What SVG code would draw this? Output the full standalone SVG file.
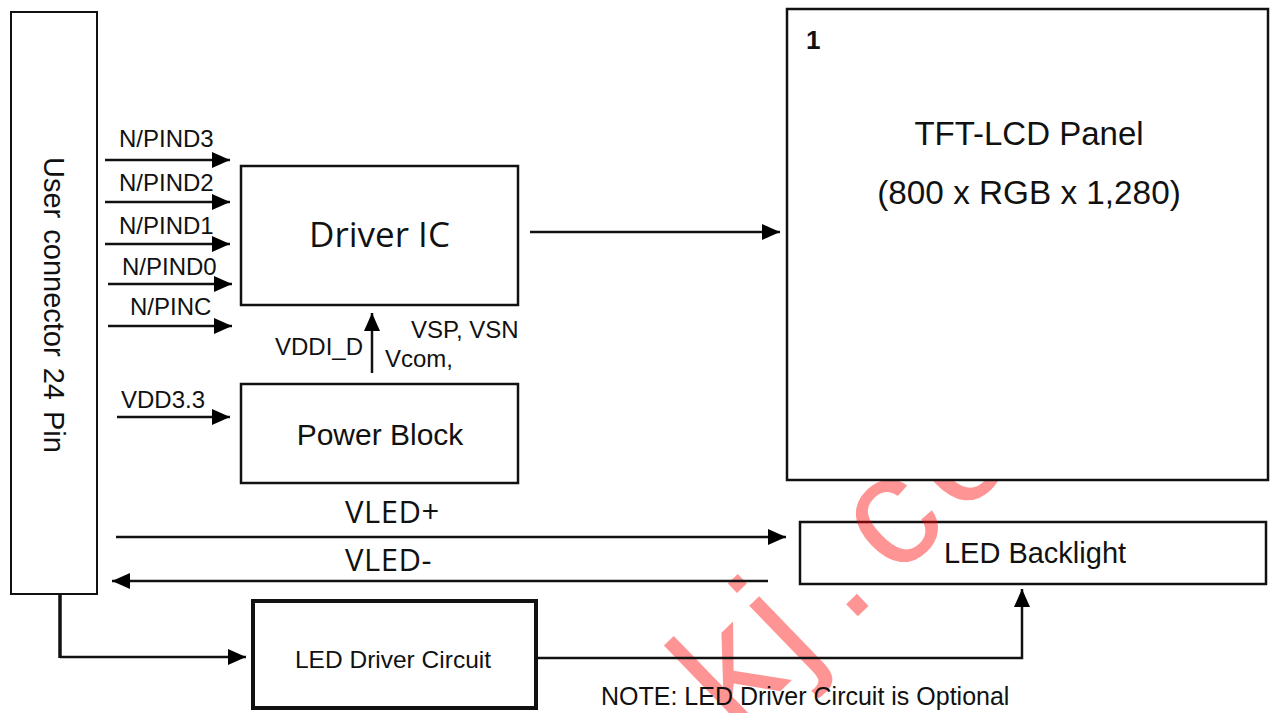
<svg xmlns="http://www.w3.org/2000/svg" width="1270" height="713" viewBox="0 0 1270 713">
<defs>
<marker id="ah" markerUnits="userSpaceOnUse" markerWidth="18" markerHeight="16" refX="18" refY="8" orient="auto">
<path d="M0,0 L18,8 L0,16 z" fill="#000"/>
</marker>
<style>
.box{fill:#fff;stroke:#111;stroke-width:2.5}
.thick{stroke-width:4}
.ln{fill:none;stroke:#111;stroke-width:2.5}
.arr{marker-end:url(#ah)}
.a{font-family:"Liberation Sans",Arial,sans-serif;fill:#111}
.o{font-family:"Open Sans","Noto Sans",sans-serif;fill:#111}
.sig{font-size:24px}
.mid{text-anchor:middle}
.wm{font-family:"Liberation Sans",Arial,sans-serif;font-size:157px;fill:#ff0000;fill-opacity:0.42}
</style>
</defs>
<rect width="1270" height="713" fill="#fff"/>

<g id="user-connector">
<rect class="box" x="11" y="12" width="86" height="582" style="stroke-width:2"/>
<text class="a" font-size="29" word-spacing="3" transform="translate(44,157) rotate(90)">User connector 24 Pin</text>
</g>

<g id="driver-ic">
<rect class="box" x="241" y="166" width="277" height="139"/>
<text class="o mid" x="379.5" y="247" font-size="35">Driver IC</text>
</g>

<g id="power-block">
<rect class="box" x="241" y="384" width="277" height="99"/>
<text class="a mid" x="380" y="445" font-size="30">Power Block</text>
</g>

<g id="led-backlight">
<rect class="box" x="800" y="522" width="466" height="62"/>
<text class="a mid" x="1035" y="563" font-size="29">LED Backlight</text>
</g>

<g id="led-driver-circuit">
<rect class="box thick" x="253" y="601" width="283" height="107"/>
<text class="a mid" x="393" y="668" font-size="24.5">LED Driver Circuit</text>
</g>

<g id="watermark">
<text class="wm" transform="translate(862.5,611.7) rotate(-44)" x="-177 -88 -21 46 135" y="0">kj.cc</text>
</g>

<g id="tft-lcd-panel">
<rect class="box" x="787" y="9" width="481" height="471"/>
<text class="a" x="806" y="49" font-size="26" font-weight="bold">1</text>
<text class="a mid" x="1029" y="145" font-size="33">TFT-LCD Panel</text>
<text class="a mid" x="1029" y="204" font-size="33.3">(800 x RGB x 1,280)</text>
</g>

<g id="connectors">
<line class="ln arr" x1="105" y1="160" x2="230" y2="160"/>
<line class="ln arr" x1="105" y1="202" x2="230" y2="202"/>
<line class="ln arr" x1="105" y1="244" x2="230" y2="244"/>
<line class="ln arr" x1="108" y1="284" x2="232" y2="284"/>
<line class="ln arr" x1="108" y1="326" x2="232" y2="326"/>
<line class="ln arr" x1="117" y1="417" x2="230" y2="417"/>
<line class="ln arr" x1="372" y1="373" x2="372" y2="313"/>
<line class="ln arr" x1="530" y1="232" x2="780" y2="232"/>
<line class="ln arr" x1="116" y1="537" x2="786" y2="537"/>
<line class="ln arr" x1="768" y1="581" x2="112" y2="581"/>
<line class="ln" x1="60" y1="594" x2="60" y2="658" style="stroke-width:3.5"/>
<polyline class="ln arr" points="60,657 246,657"/>
<polyline class="ln arr" points="536,658 1022,658 1022,589"/>
</g>

<g id="labels">
<text class="a sig" x="119" y="147">N/PIND3</text>
<text class="a sig" x="119" y="191">N/PIND2</text>
<text class="a sig" x="119" y="234">N/PIND1</text>
<text class="a sig" x="122" y="275">N/PIND0</text>
<text class="a sig" x="130" y="315">N/PINC</text>
<text class="a sig" x="121" y="408">VDD3.3</text>
<text class="a sig" x="275" y="355">VDDI_D</text>
<text class="a sig" x="411" y="338">VSP, VSN</text>
<text class="a sig" x="385" y="367">Vcom,</text>
<text class="o" x="345" y="523" font-size="31" letter-spacing="0.5">VLED+</text>
<text class="o" x="345" y="571" font-size="31" letter-spacing="0.5">VLED-</text>
<text class="a" x="601" y="705" font-size="25">NOTE: LED Driver Circuit is Optional</text>
</g>
</svg>
